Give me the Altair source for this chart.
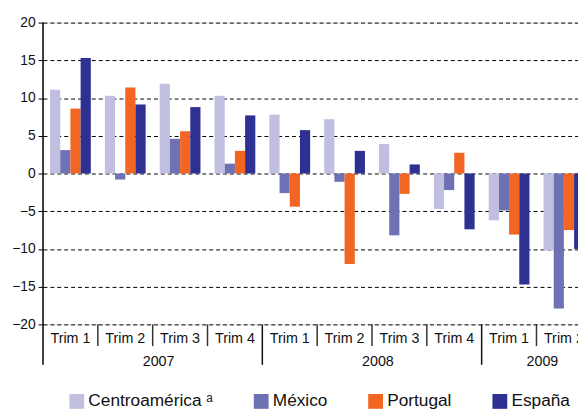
import altair as alt
import pandas as pd

series = ["Centroamérica ᵃ", "México", "Portugal", "España"]
colors = ["#c0bfdf", "#6e72b5", "#f26522", "#2e3192"]
years = ["2007"] * 4 + ["2008"] * 4 + ["2009"] * 2
quarters = ["Trim 1", "Trim 2", "Trim 3", "Trim 4"] * 2 + ["Trim 1", "Trim 2"]

centro = [11.1, 10.3, 11.9, 10.3, 7.8, 7.2, 3.9, -4.7, -6.2, -10.2]
mexico = [3.1, -0.8, 4.6, 1.3, -2.6, -1.1, -8.2, -2.2, -4.9, -17.9]
portugal = [8.6, 11.4, 5.6, 3.0, -4.4, -12.0, -2.7, 2.75, -8.1, -7.5]
espana = [15.3, 9.15, 8.8, 7.7, 5.75, 3.0, 1.2, -7.4, -14.7, -10.0]

y_ticks = [-20, -15, -10, -5, 0, 5, 10, 15, 20]

keys = [f"{y} {q}" for y, q in zip(years, quarters)]
rows = []
for s, vals in zip(series, [centro, mexico, portugal, espana]):
    for k, v in zip(keys, vals):
        rows.append({"key": k, "serie": s, "valor": v})
df = pd.DataFrame(rows)

lab_df = pd.DataFrame({"key": keys, "quarter": quarters})
sep_rows = []
for i, k in enumerate(keys):
    if i == 0:
        continue
    sep_rows.append({"key": k, "long": years[i] != years[i - 1]})
sep_df = pd.DataFrame(sep_rows)

year_names = ["2007", "2008", "2009"]
year_mid = []
for yv in year_names:
    ks = [k for k, y in zip(keys, years) if y == yv]
    year_mid.append(ks[len(ks) // 2])
year_df = pd.DataFrame({"key": year_mid, "year": year_names})

PLOT_W = 542.5
PLOT_H = 306
x_scale = alt.Scale(domain=keys, range=[0, 556], paddingInner=0, paddingOuter=0)
FONT = "Liberation Sans"

bars = alt.Chart(df).mark_bar().encode(
    x=alt.X("key:N", scale=x_scale, sort=keys,
            axis=alt.Axis(orient="bottom", offset=-PLOT_H / 2, labels=False, title=None,
                          domainColor="black", domainWidth=1.5, tickColor="black",
                          tickSize=4, tickWidth=1.5, bandPosition=0, grid=False)),
    xOffset=alt.XOffset("serie:N", sort=series,
                        scale=alt.Scale(domain=series, paddingInner=0, paddingOuter=0.69)),
    y=alt.Y("valor:Q", scale=alt.Scale(domain=[-20, 20], nice=False),
            axis=alt.Axis(values=y_ticks, grid=True, gridDash=[4, 3], gridColor="#000",
                          gridWidth=1, domain=False, tickColor="black", tickSize=5,
                          labelFontSize=14, labelColor="#111", labelPadding=3, title=None)),
    color=alt.Color("serie:N", sort=series, scale=alt.Scale(domain=series, range=colors),
                    legend=alt.Legend(orient="none", legendX=25.5, legendY=375,
                                      direction="horizontal", title=None,
                                      symbolType="square", symbolSize=225,
                                      symbolStrokeWidth=0, symbolOpacity=1,
                                      labelFontSize=17.5, labelColor="#111", labelOffset=3,
                                      columnPadding=40, padding=0)),
)

labels = alt.Chart(lab_df).mark_text(fontSize=14.5, color="#111", baseline="middle").encode(
    x=alt.X("key:N", scale=x_scale, sort=keys, axis=None),
    y=alt.value(321),
    text="quarter:N",
)

seps_short = alt.Chart(sep_df).transform_filter("!datum.long").mark_rule(
    color="#333", strokeWidth=1.5).encode(
    x=alt.X("key:N", scale=x_scale, sort=keys, bandPosition=0, axis=None),
    y=alt.value(PLOT_H), y2=alt.value(328),
)
seps_long = alt.Chart(sep_df).transform_filter("datum.long").mark_rule(
    color="#111", strokeWidth=1.5).encode(
    x=alt.X("key:N", scale=x_scale, sort=keys, bandPosition=0, axis=None),
    y=alt.value(PLOT_H), y2=alt.value(347),
)

year_text = alt.Chart(year_df).mark_text(fontSize=14.5, color="#111", baseline="middle", dx=6).encode(
    x=alt.X("key:N", scale=x_scale, sort=keys, bandPosition=0, axis=None),
    y=alt.value(344),
    text="year:N",
)

y_line = alt.Chart(pd.DataFrame({"a": [0]})).mark_rule(color="black", strokeWidth=1.5).encode(
    x=alt.value(0), y=alt.value(0), y2=alt.value(347)
)

chart = alt.layer(bars, labels, seps_short, seps_long, year_text, y_line).properties(
    width=PLOT_W, height=PLOT_H,
    autosize=alt.AutoSizeParams(type="none"),
    padding={"left": 35.5, "top": 12, "right": 0, "bottom": 83},
).configure_view(stroke=None).configure(font=FONT)

chart.save("out.html", embed_options={"renderer": "svg", "actions": False})
